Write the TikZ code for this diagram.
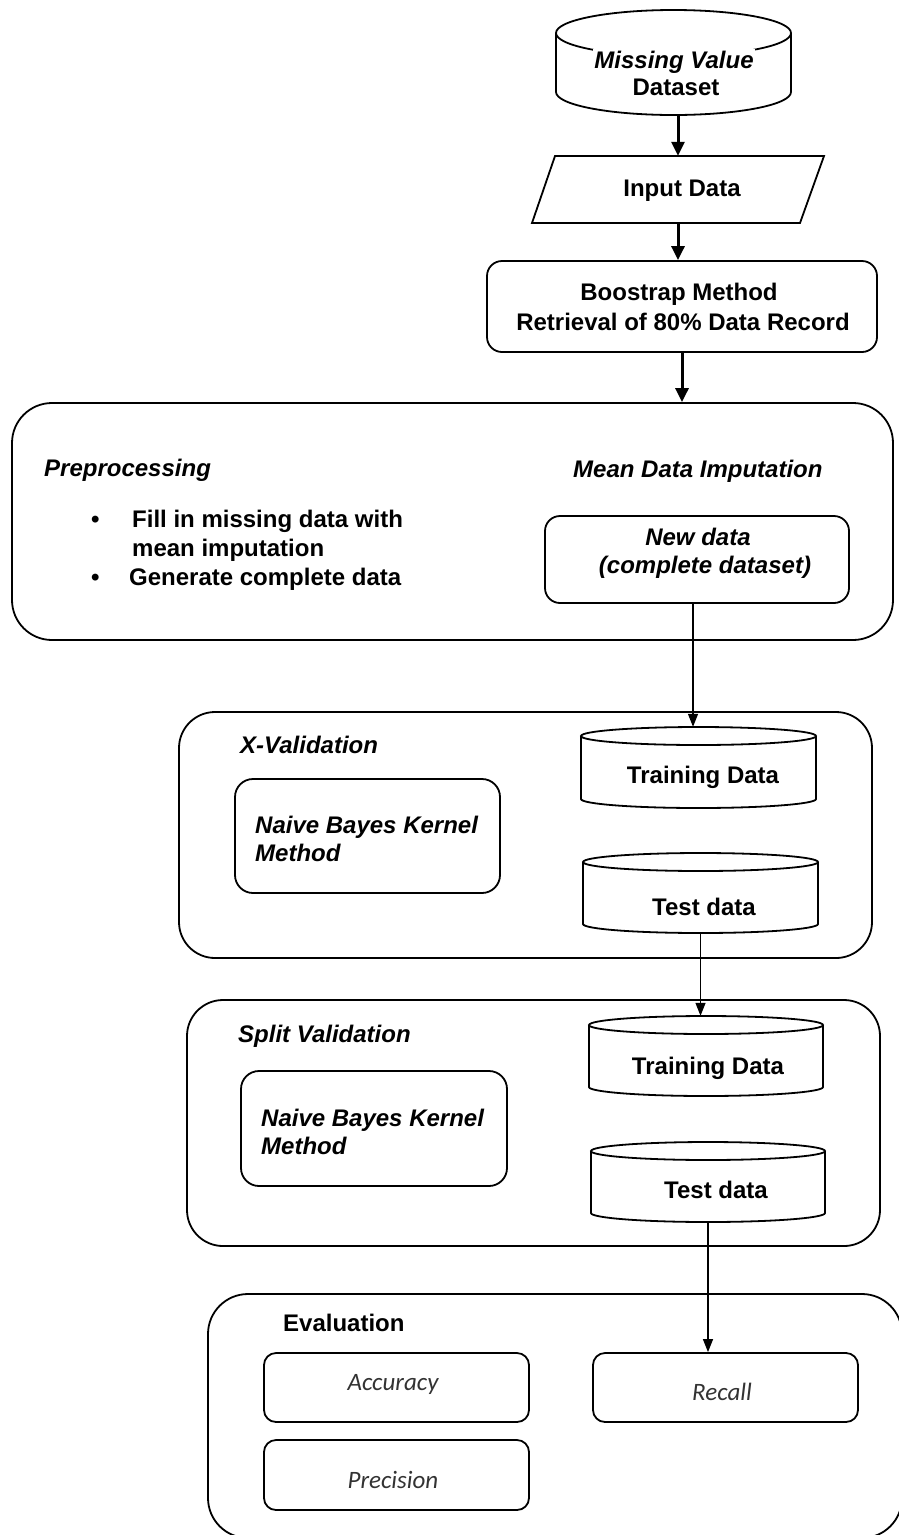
\documentclass[tikz,border=0pt]{standalone}
\usepackage{fontspec}
\setmainfont{Liberation Sans}
\newfontfamily\carl{Carlito}
\usetikzlibrary{arrows.meta}
\tikzset{
  box/.style={draw, line width=1.8pt, rounded corners=15pt, inner sep=0pt},
  bigbox/.style={draw, line width=1.8pt, rounded corners=36pt, inner sep=0pt},
  cylline/.style={line width=1.8pt},
  txt/.style={inner sep=0pt, font=\fontsize{24}{28}\selectfont\bfseries},
  itxt/.style={inner sep=0pt, font=\fontsize{24}{28}\selectfont\bfseries\itshape},
  etxt/.style={inner sep=0pt, font=\fontsize{25}{30}\selectfont\carl\itshape, text=black!80},
  bigarrow/.style={line width=3pt, -{Triangle[length=14pt,width=13pt]}},
  smallarrow/.style={line width=1.3pt, -{Triangle[length=13pt,width=10pt]}},
}
\newcommand{\dbcyl}[6]{%
  \pgfmathsetmacro\cylcx{(#2+#3)/2}%
  \pgfmathsetmacro\cylrx{(#3-#2)/2}%
  \pgfmathsetmacro\cylya{#4+#6}%
  \pgfmathsetmacro\cylyb{#5-#6}%
  \pgfmathsetmacro\cylcy{(#4+#5)/2}%
  \draw[cylline, fill=white] (\cylcx,\cylya) ellipse [x radius=\cylrx, y radius=#6];
  \draw[cylline] (#2,\cylya) -- (#2,\cylyb) arc[start angle=180, end angle=0, x radius=\cylrx, y radius=#6] -- (#3,\cylya);
  \node[inner sep=0pt, minimum width={(#3-#2)*1pt}, minimum height={(#5-#4)*1pt}] (#1) at (\cylcx,\cylcy) {};
}
\begin{document}
\begin{tikzpicture}[x=1pt, y=-1pt]
\fill[white] (0,0) rectangle (898,1535);
\useasboundingbox (0,0) rectangle (898,1535);

% --- top cylinder
\dbcyl{dataset}{556}{791}{10}{115}{23}
\node[itxt, anchor=base, fill=white, inner sep=1.5pt] (mv) at (674,68) {Missing Value};
\node[txt, anchor=base] (ds) at (676,95) {Dataset};

% --- input data (parallelogram)
\draw[line width=1.8pt] (555,156) -- (824,156) -- (800,223) -- (532,223) -- cycle;
\node[inner sep=0pt, minimum width=292pt, minimum height=67pt] (input) at (678,189.5) {};
\node[txt, anchor=base] (inputtxt) at (682,196) {Input Data};

% --- bootstrap
\node[box, minimum width=390pt, minimum height=91pt] (boost) at (682,306.5) {};
\node[txt, anchor=base] (boost1) at (679,300) {Boostrap Method};
\node[txt, anchor=base] (boost2) at (683,330) {Retrieval of 80\% Data Record};

% --- preprocessing
\node[bigbox, rounded corners=40pt, minimum width=881pt, minimum height=237pt] (prep) at (452.5,521.5) {};
\node[itxt, anchor=base west] (preptitle) at (44,476) {Preprocessing};
\node[itxt, anchor=base west] (meantitle) at (573,477) {Mean Data Imputation};
\node[txt, anchor=base west] (b1) at (91,527) {•};
\node[txt, anchor=base west] (fill1) at (132,527) {Fill in missing data with};
\node[txt, anchor=base west] (fill2) at (132,556) {mean imputation};
\node[txt, anchor=base west] (b2) at (91,585) {•};
\node[txt, anchor=base west] (gen) at (129,585) {Generate complete data};
\node[box, minimum width=304pt, minimum height=87pt] (newdata) at (697,559.5) {};
\node[itxt, anchor=base] (nd1) at (698,545) {New data};
\node[itxt, anchor=base] (nd2) at (705,573) {(complete dataset)};

% --- X-Validation
\node[bigbox, minimum width=693pt, minimum height=246pt] (xval) at (525.5,835) {};
\node[itxt, anchor=base west] (xtitle) at (240,753) {X-Validation};
\node[box, rounded corners=18pt, minimum width=265pt, minimum height=114pt] (nbx) at (367.5,836) {};
\node[itxt, anchor=base west] (nbx1) at (255,833) {Naive Bayes Kernel};
\node[itxt, anchor=base west] (nbx2) at (255,861) {Method};
\dbcyl{trainX}{581}{816}{727}{808}{9}
\node[txt, anchor=base] (trainXt) at (703,783) {Training Data};
\dbcyl{testX}{583}{818}{853}{933}{9}
\node[txt, anchor=base] (testXt) at (704,915) {Test data};

% --- Split Validation
\node[bigbox, minimum width=693pt, minimum height=246pt] (sval) at (533.5,1123) {};
\node[itxt, anchor=base west] (stitle) at (238,1042) {Split Validation};
\node[box, rounded corners=18pt, minimum width=266pt, minimum height=115pt] (nbs) at (374,1128.5) {};
\node[itxt, anchor=base west] (nbs1) at (261,1126) {Naive Bayes Kernel};
\node[itxt, anchor=base west] (nbs2) at (261,1154) {Method};
\dbcyl{trainS}{589}{823}{1016}{1096}{9}
\node[txt, anchor=base] (trainSt) at (708,1074) {Training Data};
\dbcyl{testS}{591}{825}{1142}{1222}{9}
\node[txt, anchor=base] (testSt) at (716,1198) {Test data};

% --- Evaluation
\node[bigbox, rounded corners=40pt, minimum width=694pt, minimum height=244pt] (evalbox) at (555,1416) {};
\node[txt, anchor=base west] (evaltitle) at (283,1331) {Evaluation};
\node[box, rounded corners=12pt, minimum width=265pt, minimum height=69pt] (acc) at (396.5,1387.5) {};
\node[etxt, anchor=base] (acct) at (393,1390) {Accuracy};
\node[box, rounded corners=12pt, minimum width=265pt, minimum height=70pt] (prec) at (396.5,1475) {};
\node[etxt, anchor=base] (prect) at (393,1488) {Precision};
\node[box, rounded corners=12pt, minimum width=265pt, minimum height=69pt] (recall) at (725.5,1387.5) {};
\node[etxt, anchor=base] (recallt) at (722,1400) {Recall};

% --- connectors
\draw[bigarrow] (dataset.south -| input.north) -- (input.north);
\draw[bigarrow] (input.south) -- (input.south |- boost.north);
\draw[bigarrow] (boost.south) -- (boost.south |- prep.north);
\draw[smallarrow] ([xshift=-4pt]newdata.south) -- ([xshift=-4pt]newdata.south |- trainX.north);
\draw[smallarrow] (testX.south) -- (testX.south |- trainS.north);
\draw[smallarrow] (testS.south) -- (testS.south |- recall.north);
\end{tikzpicture}
\end{document}
